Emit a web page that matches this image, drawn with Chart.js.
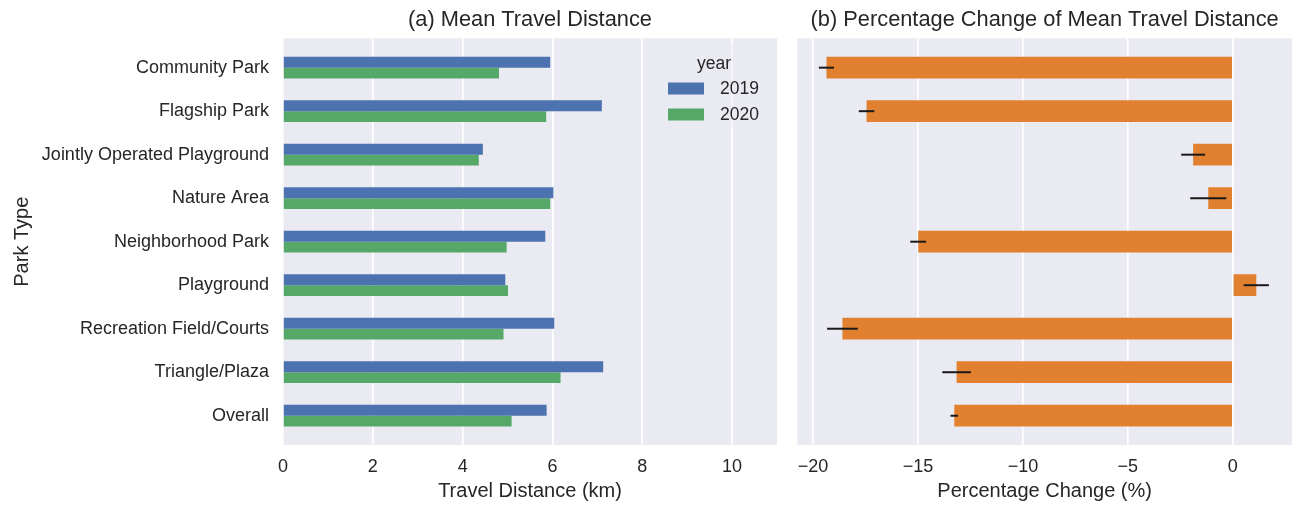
<!DOCTYPE html>
<html>
<head>
<meta charset="utf-8">
<script src="https://cdn.jsdelivr.net/npm/chart.js@4.4.0/dist/chart.umd.min.js"></script>
<style>
  html, body { margin: 0; padding: 0; background: #ffffff; }
  #wrap { position: relative; width: 1298px; height: 506px; }
  #wrap canvas { position: absolute; top: 0; }
  #left { left: 0; }
  #right { left: 790px; }
</style>
</head>
<body>
<div id="wrap">
  <canvas id="left" width="790" height="506"></canvas>
  <canvas id="right" width="508" height="506"></canvas>
</div>
<script>
// Park categories, top to bottom
const categories = [
  'Community Park',
  'Flagship Park',
  'Jointly Operated Playground',
  'Nature Area',
  'Neighborhood Park',
  'Playground',
  'Recreation Field/Courts',
  'Triangle/Plaza',
  'Overall'
];
// Mean travel distance (km) per year
const years = ['2019', '2020'];
const dist2019 = [5.95, 7.10, 4.45, 6.02, 5.84, 4.95, 6.04, 7.13, 5.87];
const dist2020 = [4.81, 5.86, 4.36, 5.95, 4.98, 5.01, 4.91, 6.18, 5.09];
// Percentage change of mean travel distance, with its error half-width
const pctChange = [-19.36, -17.45, -1.89, -1.17, -14.99, 1.12, -18.60, -13.16, -13.27];
const pctErr = [0.36, 0.37, 0.57, 0.86, 0.38, 0.60, 0.73, 0.68, 0.18];
// Axis tick settings
const distTicks = { min: 0, max: 11, step: 2 };
const pctTicks = { min: -20.75, max: 2.82, step: 5 };

const FONT = "'Liberation Sans', Arial, Helvetica, sans-serif";
const TEXT = '#262626';
const PANEL_BG = '#EAEAF2';
const BLUE = '#4C72B0';
const GREEN = '#55A868';
const ORANGE = '#E1812F';

Chart.defaults.font.family = FONT;
Chart.defaults.color = TEXT;

const catMin = -0.675, catMax = categories.length - 1 + 0.675;

// panel background behind grid and bars
const panelBg = {
  id: 'panelBg',
  beforeDraw(chart) {
    const { ctx, chartArea: a } = chart;
    ctx.save();
    ctx.fillStyle = PANEL_BG;
    ctx.fillRect(a.left, a.top, a.right - a.left, a.bottom - a.top);
    ctx.restore();
  }
};

function panelTitle(text) {
  return {
    id: 'panelTitle',
    afterDraw(chart) {
      const { ctx, chartArea: a } = chart;
      ctx.save();
      ctx.font = `21.8px ${FONT}`;
      ctx.fillStyle = TEXT;
      ctx.textAlign = 'center';
      ctx.textBaseline = 'middle';
      ctx.fillText(text, (a.left + a.right) / 2, 20);
      ctx.restore();
    }
  };
}

// "year" legend inside the upper right of the left panel
const yearLegend = {
  id: 'yearLegend',
  afterDatasetsDraw(chart) {
    const { ctx } = chart;
    ctx.save();
    ctx.fillStyle = 'rgba(234,234,242,0.45)';
    ctx.fillRect(652, 44, 119, 84);
    ctx.font = `17.5px ${FONT}`;
    ctx.fillStyle = TEXT;
    ctx.textBaseline = 'middle';
    ctx.textAlign = 'center';
    ctx.fillText('year', 714, 64);
    ctx.textAlign = 'left';
    chart.data.datasets.forEach((ds, i) => {
      const y = 88.5 + i * 26;
      ctx.fillStyle = ds.backgroundColor;
      ctx.fillRect(668, y - 6, 36, 12);
      ctx.fillStyle = TEXT;
      ctx.fillText(ds.label, 720, y + 0.5);
    });
    ctx.restore();
  }
};

// horizontal error bars at the end of each percentage bar
const errorBars = {
  id: 'errorBars',
  afterDatasetsDraw(chart) {
    const { ctx, scales: { x, y } } = chart;
    ctx.save();
    ctx.strokeStyle = '#1a1a1a';
    ctx.lineWidth = 2;
    pctChange.forEach((v, i) => {
      const py = y.getPixelForValue(i);
      ctx.beginPath();
      ctx.moveTo(x.getPixelForValue(v - pctErr[i]), py);
      ctx.lineTo(x.getPixelForValue(v + pctErr[i]), py);
      ctx.stroke();
    });
    ctx.restore();
  }
};

const tickFont = { size: 18, lineHeight: 1.2 };
const labelFont = { size: 20, lineHeight: 1.2 };

function categoryAxis(display) {
  return {
    type: 'linear',
    display,
    offset: false,
    min: catMin,
    max: catMax,
    reverse: true,
    afterBuildTicks: s => { s.ticks = categories.map((_, i) => ({ value: i })); },
    ticks: { callback: v => categories[v], padding: 14, font: tickFont, color: TEXT },
    grid: { display: false, drawTicks: false },
    border: { display: false },
    title: { display: true, text: 'Park Type', font: labelFont, color: TEXT, padding: { top: 10, bottom: 0 } },
    afterFit: s => { s.width = display ? 283 : 0; }
  };
}

function valueAxis(t, label, fmt) {
  return {
    type: 'linear',
    position: 'bottom',
    offset: false,
    min: t.min,
    max: t.max,
    ticks: { stepSize: t.step, includeBounds: false, padding: 10.8, font: tickFont, color: TEXT, callback: fmt },
    grid: { color: '#ffffff', lineWidth: 1.6, drawTicks: false },
    border: { display: false },
    title: { display: true, text: label, font: labelFont, color: TEXT, padding: { top: 0, bottom: 3 } },
    afterFit: s => {
      s.height = 60.9;
      // the panel edges are fixed by the layout padding, not by label overhang
      s.paddingLeft = 0;
      s.paddingRight = 0;
    }
  };
}

const common = {
  indexAxis: 'y',
  responsive: false,
  animation: false,
  devicePixelRatio: 1,
  plugins: { legend: { display: false }, tooltip: { enabled: false } }
};

new Chart(document.getElementById('left'), {
  type: 'bar',
  data: {
    datasets: [
      { label: years[0], data: categories.map((_, i) => ({ x: dist2019[i], y: i })), backgroundColor: BLUE,
        categoryPercentage: 0.5, barPercentage: 1, borderWidth: 0 },
      { label: years[1], data: categories.map((_, i) => ({ x: dist2020[i], y: i })), backgroundColor: GREEN,
        categoryPercentage: 0.5, barPercentage: 1, borderWidth: 0 }
    ]
  },
  options: {
    ...common,
    layout: { padding: { left: 0, right: 13, top: 38.3, bottom: 0 } },
    scales: {
      x: valueAxis(distTicks, 'Travel Distance (km)', v => String(v)),
      y: categoryAxis(true)
    }
  },
  plugins: [panelBg, panelTitle('(a) Mean Travel Distance'), yearLegend]
});

new Chart(document.getElementById('right'), {
  type: 'bar',
  data: {
    datasets: [
      { label: 'Percentage Change', data: categories.map((_, i) => ({ x: pctChange[i], y: i })),
        backgroundColor: ORANGE, categoryPercentage: 0.5, barPercentage: 1, borderWidth: 0 }
    ]
  },
  options: {
    ...common,
    layout: { padding: { left: 7.3, right: 6, top: 38.3, bottom: 0 } },
    scales: {
      x: valueAxis(pctTicks, 'Percentage Change (%)', v => (v < 0 ? '\u2212' + Math.abs(v) : String(v))),
      y: categoryAxis(false)
    }
  },
  plugins: [panelBg, panelTitle('(b) Percentage Change of Mean Travel Distance'), errorBars]
});
</script>
</body>
</html>
